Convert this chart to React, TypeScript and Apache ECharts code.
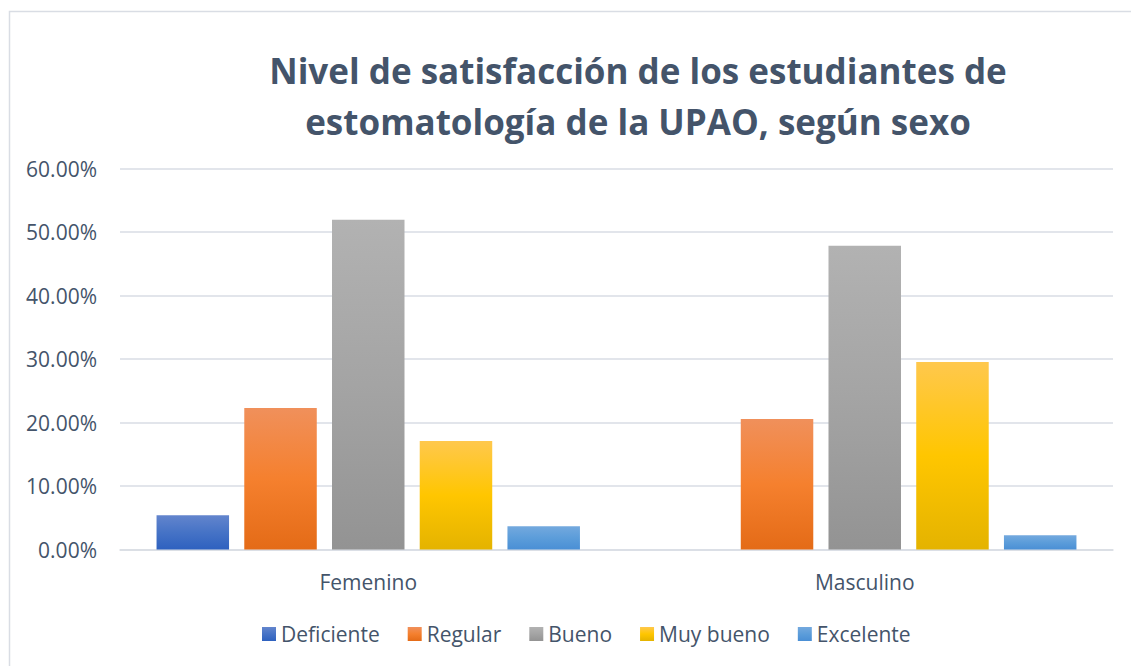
import React, { useEffect, useRef } from "react";
import * as echarts from "echarts";

const categories = ["Femenino", "Masculino"];
const seriesNames = ["Deficiente", "Regular", "Bueno", "Muy bueno", "Excelente"];
const deficiente = [5.41, 0];
const regular = [22.29, 20.55];
const bueno = [51.94, 47.84];
const muyBueno = [17.08, 29.54];
const excelente = [3.68, 2.26];
const yTicks = { min: 0, max: 60, interval: 10 };
const titleLines = [
  "Nivel de satisfacción de los estudiantes de",
  "estomatología de la UPAO, según sexo",
];

const gradients: string[][] = [
  ["#6385cd", "#4673c6", "#2e61bf"],
  ["#f0905b", "#f5802e", "#e46b17"],
  ["#b2b2b2", "#a4a4a4", "#939393"],
  ["#ffc84d", "#ffc600", "#e4b300"],
  ["#74a9de", "#5c9dda", "#4a8fd5"],
];

const TEXT = "#44546a";
const GRID = "#d9dde4";
const FONT = '"Open Sans", sans-serif';

export default function App() {
  const ref = useRef<HTMLDivElement>(null);
  useEffect(() => {
    if (!ref.current) return;
    const chart = echarts.init(ref.current, undefined, { renderer: "svg" });
    const values = [deficiente, regular, bueno, muyBueno, excelente];
    const series = seriesNames.map((name, i) => ({
      name,
      type: "bar",
      data: values[i],
      barWidth: 72.5,
      barGap: "21%",
      itemStyle: {
        color: new echarts.graphic.LinearGradient(0, 0, 0, 1, [
          { offset: 0, color: gradients[i][0] },
          { offset: 0.5, color: gradients[i][1] },
          { offset: 1, color: gradients[i][2] },
        ]),
      },
    }));
    chart.setOption({
      animation: false,
      backgroundColor: "#ffffff",
      textStyle: { fontFamily: FONT },
      graphic: [
        {
          type: "rect",
          shape: { x: 9.5, y: 11.5, width: 1140, height: 680 },
          style: { fill: "none", stroke: GRID, lineWidth: 1.5 },
          silent: true,
        },
        {
          type: "text",
          x: 638,
          y: 96,
          style: {
            text: titleLines.join("\n"),
            fontSize: 35,
            fontWeight: "bold",
            fontFamily: FONT,
            fill: TEXT,
            align: "center",
            verticalAlign: "middle",
            lineHeight: 51,
          },
        },
      ],
      grid: { left: 120, right: 18, top: 168.5, bottom: 116.5, containLabel: false },
      legend: {
        data: seriesNames,
        left: 257,
        top: 618,
        itemWidth: 14,
        itemHeight: 14,
        itemGap: 28,
        icon: "rect",
        textStyle: { fontSize: 21, color: TEXT, fontFamily: FONT, lineHeight: 22 },
      },
      xAxis: {
        type: "category",
        data: categories,
        axisTick: { show: false },
        axisLine: { show: true, lineStyle: { color: GRID, width: 1.5 } },
        axisLabel: { fontSize: 21, color: TEXT, fontFamily: FONT, margin: 22 },
      },
      yAxis: {
        type: "value",
        min: yTicks.min,
        max: yTicks.max,
        interval: yTicks.interval,
        axisLine: { show: false },
        axisTick: { show: false },
        splitLine: { lineStyle: { color: GRID, width: 1.5 } },
        axisLabel: {
          fontSize: 21,
          color: TEXT,
          fontFamily: FONT,
          margin: 23,
          formatter: (v: number) => v.toFixed(2) + "%",
        },
      },
      series,
    });
    return () => chart.dispose();
  }, []);
  return (
    <div
      ref={ref}
      style={{ position: "fixed", left: 0, top: 0, width: 1131, height: 666 }}
    />
  );
}
